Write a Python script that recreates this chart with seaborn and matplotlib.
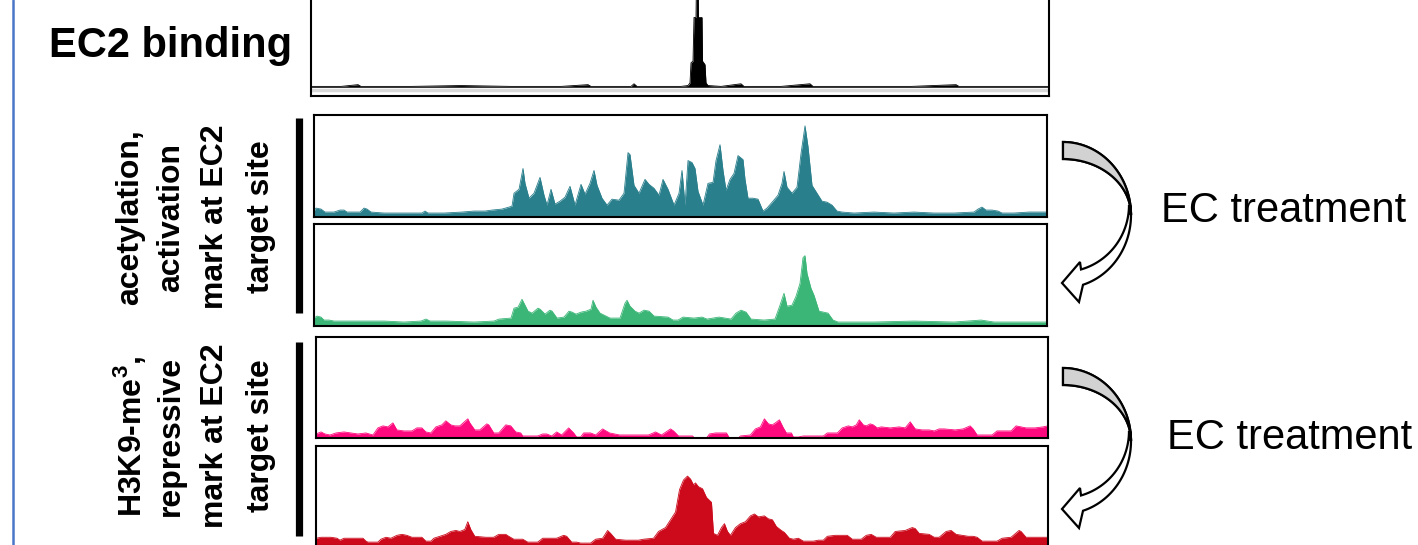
import numpy as np
import seaborn as sns
import matplotlib.pyplot as plt
from matplotlib.patches import Polygon

sns.set_theme(style='white')
plt.rcParams['font.family'] = ['Liberation Sans', 'DejaVu Sans']
plt.rcParams['text.color'] = 'black'
plt.rcParams['mathtext.fontset'] = 'custom'
plt.rcParams['mathtext.bf'] = 'Liberation Sans:bold'
plt.rcParams['mathtext.rm'] = 'Liberation Sans'

# signal tracks: genomic position (bins across the window) and relative signal height
ec2_pos = [0, 30, 47, 50, 100, 150, 200, 250, 277, 280, 320, 323, 326, 370, 377, 379, 380, 382, 383,
           385, 385.5, 387, 387.5, 391, 391.5, 394, 395, 397, 410, 430, 433, 470, 499, 502, 550, 600,
           645, 648, 700, 738]
ec2_sig = [0.01, 0.01, 0.03, 0.01, 0.01, 0.02, 0.01, 0.01, 0.03, 0.01, 0.01, 0.04, 0.01, 0.01, 0.02, 0.05,
           0.28, 0.3, 0.8, 0.8, 1.3, 1.3, 0.8, 0.8, 0.3, 0.26, 0.05, 0.02, 0.01, 0.04, 0.01, 0.01, 0.04,
           0.01, 0.01, 0.01, 0.03, 0.01, 0.01, 0.01]

acet_pos = [0, 2, 7, 11, 20, 26, 30, 33, 46, 50, 53, 57, 70, 90, 108, 111, 114, 130, 148, 160, 171, 178,
            188, 195, 198, 200, 205, 209, 211, 215, 220, 226, 230, 233, 237, 241, 246, 251, 256, 261,
            265, 267, 271, 276, 280, 283, 288, 293, 298, 305, 310, 314, 316, 320, 325, 331, 335, 340,
            345, 349, 354, 360, 365, 368, 371, 374, 378, 381, 384, 389, 394, 399, 402, 406, 409, 412,
            416, 420, 424, 429, 431, 434, 439, 444, 449, 453, 459, 464, 468, 470, 473, 478, 483, 487,
            491, 494, 498, 503, 508, 513, 518, 523, 528, 540, 560, 580, 600, 620, 640, 660, 664, 668,
            672, 678, 684, 688, 700, 715, 733]
acet_sig = [0.03, 0.06, 0.05, 0.02, 0.02, 0.04, 0.04, 0.02, 0.02, 0.06, 0.05, 0.02, 0.01, 0.01, 0.01,
            0.03, 0.01, 0.01, 0.02, 0.03, 0.03, 0.04, 0.05, 0.07, 0.08, 0.21, 0.25, 0.46, 0.31, 0.16,
            0.21, 0.37, 0.19, 0.09, 0.25, 0.1, 0.13, 0.17, 0.28, 0.09, 0.23, 0.3, 0.2, 0.31, 0.44, 0.29,
            0.16, 0.09, 0.15, 0.14, 0.21, 0.62, 0.6, 0.29, 0.21, 0.35, 0.3, 0.26, 0.19, 0.35, 0.25, 0.09,
            0.21, 0.44, 0.09, 0.54, 0.52, 0.46, 0.23, 0.09, 0.31, 0.32, 0.54, 0.7, 0.44, 0.24, 0.35, 0.41,
            0.59, 0.55, 0.35, 0.16, 0.16, 0.15, 0.03, 0.06, 0.13, 0.19, 0.31, 0.43, 0.27, 0.21, 0.27,
            0.61, 0.89, 0.68, 0.29, 0.21, 0.13, 0.12, 0.09, 0.03, 0.02, 0.01, 0.02, 0.01, 0.02, 0.01,
            0.01, 0.02, 0.05, 0.07, 0.04, 0.04, 0.03, 0.01, 0.01, 0.02, 0.02]

acet_ec_pos = [0, 3, 7, 10, 15, 20, 30, 50, 70, 90, 107, 112, 116, 132, 160, 180, 185, 197, 200, 204,
               208, 211, 214, 218, 224, 226, 231, 236, 238, 243, 250, 255, 258, 262, 267, 272, 277, 279,
               282, 286, 290, 296, 306, 311, 313, 316, 321, 325, 330, 335, 340, 354, 359, 364, 369, 380,
               388, 393, 405, 417, 422, 427, 432, 437, 450, 461, 466, 470, 473, 478, 482, 486, 489, 491,
               493, 497, 500, 505, 514, 519, 524, 560, 600, 640, 667, 680, 733]
acet_ec_sig = [0.05, 0.07, 0.06, 0.03, 0.03, 0.02, 0.02, 0.02, 0.02, 0.01, 0.02, 0.04, 0.02, 0.02, 0.01,
               0.02, 0.04, 0.05, 0.15, 0.16, 0.24, 0.18, 0.12, 0.1, 0.15, 0.14, 0.09, 0.13, 0.12, 0.05,
               0.06, 0.12, 0.11, 0.09, 0.11, 0.12, 0.14, 0.23, 0.16, 0.1, 0.08, 0.05, 0.05, 0.2, 0.23,
               0.17, 0.12, 0.1, 0.13, 0.12, 0.07, 0.06, 0.03, 0.03, 0.06, 0.05, 0.06, 0.04, 0.06, 0.04,
               0.1, 0.13, 0.11, 0.04, 0.03, 0.04, 0.18, 0.3, 0.17, 0.18, 0.27, 0.4, 0.66, 0.68, 0.5,
               0.35, 0.28, 0.12, 0.1, 0.03, 0.01, 0.01, 0.02, 0.01, 0.03, 0.01, 0.01]

k9_pos = [0, 5, 9, 14, 20, 28, 35, 42, 50, 57, 62, 67, 72, 77, 81, 88, 96, 101, 106, 110, 115, 120, 126,
          130, 135, 139, 144, 152, 154, 159, 164, 171, 173, 178, 183, 190, 195, 200, 205, 207, 222, 227,
          231, 236, 241, 246, 253, 258, 261, 265, 268, 275, 280, 287, 294, 304, 320, 333, 340, 346, 355,
          358, 363, 377, 379, 391, 394, 400, 411, 414, 423, 425, 435, 440, 445, 449, 453, 457, 460, 464,
          468, 471, 476, 478, 483, 488, 508, 512, 522, 527, 533, 537, 541, 544, 548, 551, 555, 558, 562,
          566, 575, 584, 590, 595, 600, 607, 614, 619, 624, 629, 640, 648, 655, 658, 662, 677, 682, 690,
          696, 701, 706, 711, 720, 728, 733]
k9_sig = [0.04, 0.06, 0.04, 0.03, 0.05, 0.06, 0.05, 0.04, 0.05, 0.03, 0.1, 0.12, 0.11, 0.15, 0.08, 0.07,
          0.07, 0.1, 0.1, 0.06, 0.05, 0.11, 0.13, 0.17, 0.13, 0.12, 0.12, 0.19, 0.15, 0.08, 0.08, 0.14,
          0.13, 0.05, 0.05, 0.13, 0.12, 0.06, 0.05, 0.02, 0.02, 0.04, 0.04, 0.02, 0.06, 0.03, 0.1, 0.05,
          0.01, 0.01, 0.05, 0.05, 0.03, 0.09, 0.05, 0.03, 0.03, 0.03, 0.06, 0.03, 0.09, 0.07, 0.02, 0.02,
          0.0, 0.0, 0.04, 0.05, 0.05, 0.0, 0.0, 0.02, 0.03, 0.09, 0.11, 0.19, 0.14, 0.13, 0.15, 0.18,
          0.1, 0.05, 0.05, 0.01, 0.01, 0.02, 0.02, 0.05, 0.05, 0.1, 0.12, 0.11, 0.13, 0.18, 0.13, 0.12,
          0.14, 0.13, 0.1, 0.11, 0.1, 0.11, 0.1, 0.16, 0.09, 0.08, 0.08, 0.07, 0.09, 0.09, 0.08, 0.09,
          0.12, 0.09, 0.03, 0.03, 0.07, 0.07, 0.07, 0.12, 0.11, 0.1, 0.1, 0.11, 0.12]

k9_ec_pos = [0, 5, 15, 21, 24, 28, 38, 47, 50, 52, 62, 65, 70, 75, 81, 86, 91, 96, 106, 110, 115, 118, 124,
             130, 135, 140, 144, 149, 152, 155, 159, 170, 178, 183, 190, 193, 198, 207, 212, 222, 227, 235,
             241, 248, 251, 256, 261, 265, 275, 280, 287, 292, 295, 300, 310, 323, 328, 338, 343, 350, 355,
             360, 364, 368, 372, 375, 378, 380, 383, 387, 391, 396, 398, 402, 406, 409, 412, 415, 420, 425,
             430, 435, 439, 443, 449, 453, 457, 461, 466, 469, 474, 478, 483, 488, 498, 503, 508, 512, 520,
             532, 537, 546, 551, 556, 561, 575, 580, 590, 597, 600, 604, 614, 619, 624, 631, 636, 641, 653,
             658, 662, 667, 682, 687, 696, 704, 706, 711, 733]
k9_ec_sig = [0.05, 0.06, 0.06, 0.05, 0.03, 0.05, 0.05, 0.05, 0.02, 0.01, 0.01, 0.04, 0.06, 0.05, 0.08,
             0.09, 0.08, 0.06, 0.06, 0.02, 0.02, 0.05, 0.07, 0.09, 0.12, 0.13, 0.12, 0.14, 0.22, 0.14,
             0.07, 0.06, 0.06, 0.09, 0.09, 0.07, 0.04, 0.04, 0.01, 0.01, 0.05, 0.05, 0.05, 0.08, 0.07,
             0.01, 0.01, 0.0, 0.0, 0.04, 0.05, 0.13, 0.1, 0.04, 0.03, 0.03, 0.04, 0.05, 0.12, 0.16, 0.24,
             0.32, 0.55, 0.65, 0.69, 0.66, 0.6, 0.62, 0.58, 0.56, 0.47, 0.42, 0.1, 0.08, 0.16, 0.2, 0.12,
             0.08, 0.16, 0.2, 0.22, 0.28, 0.3, 0.27, 0.28, 0.25, 0.24, 0.17, 0.13, 0.11, 0.05, 0.04, 0.05,
             0.02, 0.02, 0.03, 0.03, 0.07, 0.08, 0.08, 0.04, 0.04, 0.08, 0.09, 0.06, 0.06, 0.12, 0.13,
             0.16, 0.15, 0.1, 0.09, 0.06, 0.06, 0.12, 0.13, 0.09, 0.07, 0.07, 0.06, 0.02, 0.02, 0.05,
             0.06, 0.13, 0.12, 0.06, 0.06]

group_labels = [['acetylation,', 'activation', 'mark at EC2', 'target site'],
                [r'H3K9-me$^{\mathbf{3}}$,', 'repressive', 'mark at EC2', 'target site']]

W, H = 1418, 545
fig = plt.figure(figsize=(W / 100, H / 100), dpi=100)


def px_axes(x0, x1, y0, y1):
    return fig.add_axes([x0 / W, 1 - y1 / H, (x1 - x0) / W, (y1 - y0) / H])


# (positions, signal, colour, box in pixels, y-limits, x extent)
tracks = [
    (ec2_pos, ec2_sig, 'black', (311, 1049, 0, 96), (-0.1, 1.0), 738),
    (acet_pos, acet_sig, '#2a7f8c', (314, 1047, 115, 217), (-0.03, 1.0), 733),
    (acet_ec_pos, acet_ec_sig, '#3bb677', (314, 1047, 224, 326), (-0.03, 1.0), 733),
    (k9_pos, k9_sig, '#ff0a7e', (316, 1048, 337, 438), (0.0, 1.0), 733),
    (k9_ec_pos, k9_ec_sig, '#cc0a1c', (316, 1048, 446, 546), (-0.03, 1.0), 733),
]

for pos, sig, col, box, ylim, xmax in tracks:
    ax = px_axes(*box)
    base = 0 if col == 'black' else ylim[0]
    ax.fill_between(pos, sig, base, color=col, lw=0)
    sns.lineplot(x=pos, y=sig, ax=ax, color=col, lw=0.6, estimator=None, sort=False)
    ax.set_xlim(0, xmax)
    ax.set_ylim(*ylim)
    ax.set_xticks([])
    ax.set_yticks([])
    ax.set_xlabel('')
    ax.set_ylabel('')
    for sp in ax.spines.values():
        sp.set_color('black')
        sp.set_linewidth(1.5)
    if col == 'black':
        ax.spines['top'].set_visible(False)
        ax.axhline(-0.03, color='#d8d8d8', lw=2.5, zorder=0)

# overlay in pixel coordinates for the annotations
ov = fig.add_axes([0, 0, 1, 1], facecolor='none')
ov.set_xlim(0, W)
ov.set_ylim(H, 0)
ov.axis('off')

ov.plot([13, 13], [0, H], color='#4a76c6', lw=1.8)
ov.plot([298.5, 298.5], [118, 313], color='black', lw=5.2, solid_capstyle='butt')
ov.plot([298.5, 298.5], [342, 536], color='black', lw=5.2, solid_capstyle='butt')

ov.text(171, 57, 'EC2 binding', fontsize=30, fontweight='bold', ha='center', va='baseline')

line_x = [130, 171, 215, 261]
for labels, yc in zip(group_labels, [217, 436]):
    for lx, lab in zip(line_x, labels):
        ov.text(lx, yc, lab, rotation=90, fontsize=23, fontweight='bold', ha='center', va='center')


def curved_arrow(y0):
    cx = 1063
    ta = np.linspace(np.pi / 2, -1.272, 80)
    outer = np.c_[cx + 68 * np.cos(ta), y0 + 73 - 73 * np.sin(ta)]
    tc = np.linspace(-1.294, 0, 60)
    inner_low = np.c_[cx + 66 * np.cos(tc), y0 + 63 - 67 * np.sin(tc)]
    tb = np.linspace(0, np.pi / 2, 60)
    inner_top = np.c_[cx + 68 * np.cos(tb), y0 + 73 - 56 * np.sin(tb)]
    head = np.array([[1079, y0 + 160], [1062, y0 + 141], [1080, y0 + 120]])
    body = np.vstack([outer, head, inner_low, inner_top])
    ov.add_patch(Polygon(body, closed=True, facecolor='white', edgecolor='black', lw=1.6))
    tg = np.linspace(np.pi / 2, 0, 60)
    outer_top = np.c_[cx + 68 * np.cos(tg), y0 + 73 - 73 * np.sin(tg)]
    gray = np.vstack([outer_top, inner_top])
    ov.add_patch(Polygon(gray, closed=True, facecolor='#d2d2d2', edgecolor='black', lw=1.6))


curved_arrow(142)
curved_arrow(368)

ov.text(1161, 222, 'EC treatment', fontsize=30, ha='left', va='baseline')
ov.text(1167, 449, 'EC treatment', fontsize=30, ha='left', va='baseline')

fig.savefig('out.png', dpi=100)
